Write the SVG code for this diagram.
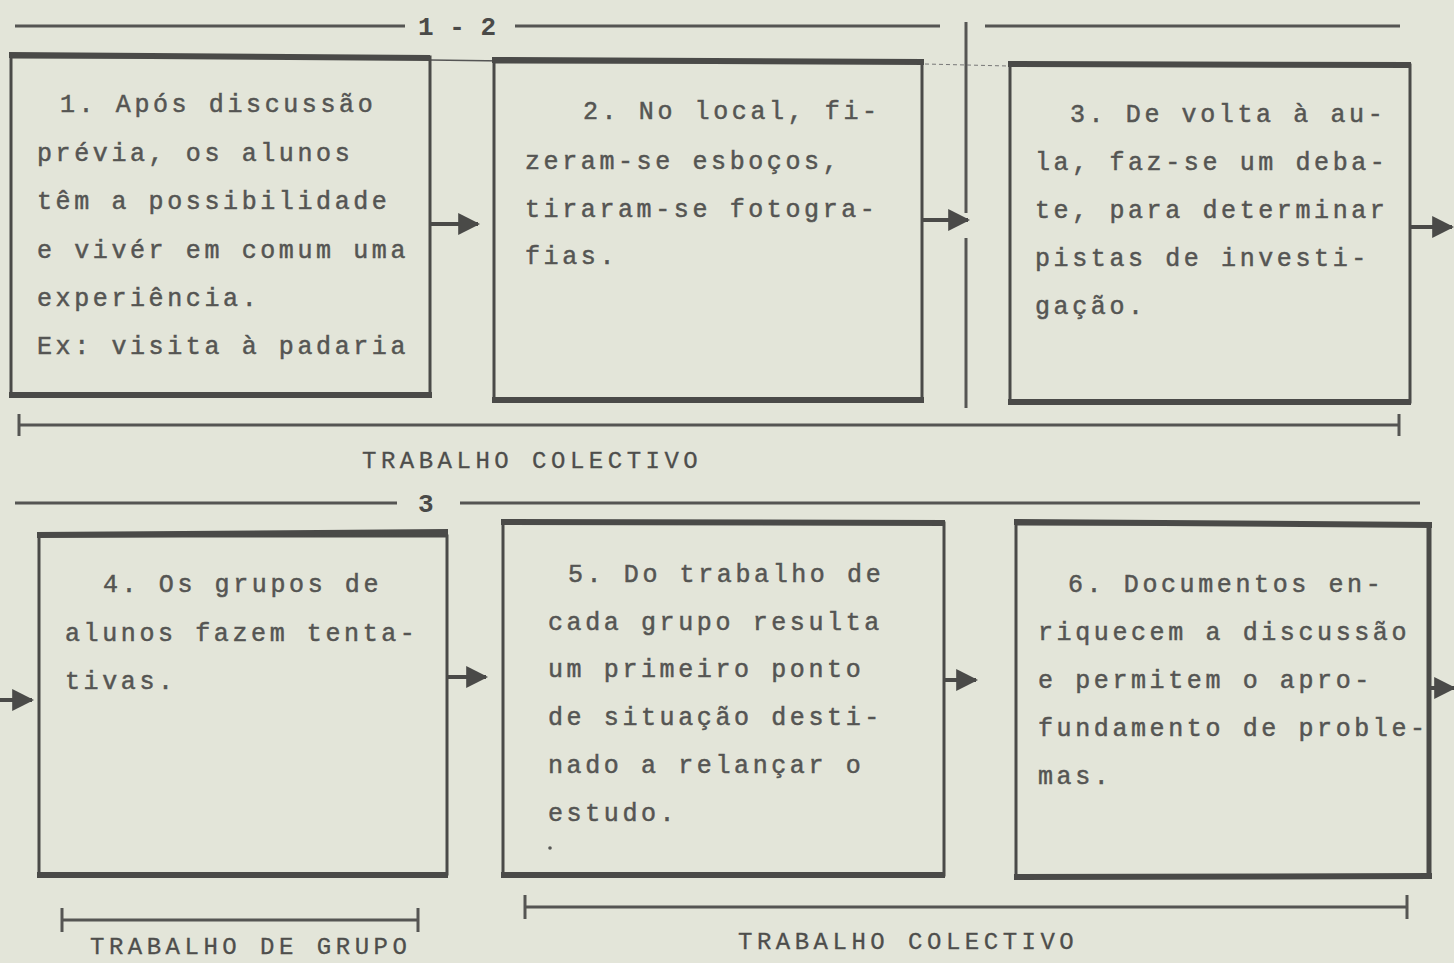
<svg xmlns="http://www.w3.org/2000/svg" width="1454" height="963" viewBox="0 0 1454 963">
<defs>
<style>
.bg{fill:#e3e5d9}
.box{fill:none;stroke:#4a4a48;stroke-width:3}
.edge{stroke:#4a4a48;stroke-width:6;stroke-linecap:butt}
.rule{stroke:#555553;stroke-width:3;fill:none}
.t{font-family:"Liberation Mono",monospace;font-size:25px;letter-spacing:3.6px;fill:#555553;stroke:#555553;stroke-width:0.5}
.lbl{font-family:"Liberation Mono",monospace;font-size:24px;letter-spacing:4.5px;fill:#4e4e4c;stroke:#4e4e4c;stroke-width:0.3}
.hd{font-family:"Liberation Mono",monospace;font-size:26px;font-weight:bold;fill:#4a4a48}
.arr{stroke:#4a4a48;stroke-width:4;fill:none}
</style>
<marker id="ah" viewBox="0 0 10 10" refX="9" refY="5" markerWidth="5.5" markerHeight="5.5" orient="auto" markerUnits="strokeWidth">
<path d="M0,0 L10,5 L0,10 z" fill="#4a4a48"/>
</marker>
</defs>
<rect class="bg" x="0" y="0" width="1454" height="963"/>

<g id="headers">
<line class="rule" x1="15" y1="26" x2="405" y2="26"/>
<text class="hd" x="418" y="35">1 - 2</text>
<line class="rule" x1="515" y1="26" x2="940" y2="26"/>
<line class="rule" x1="985" y1="26" x2="1400" y2="26"/>
<line class="rule" x1="966" y1="22" x2="966" y2="213"/>
<line class="rule" x1="966" y1="238" x2="966" y2="408"/>
<line class="rule" x1="15" y1="503" x2="397" y2="503"/>
<text class="hd" x="418" y="512" font-weight="normal">3</text>
<line class="rule" x1="460" y1="503" x2="1420" y2="503"/>
<line x1="430" y1="60" x2="505" y2="61" stroke="#555" stroke-width="1.5"/>
<line x1="925" y1="64" x2="1008" y2="66" stroke="#777" stroke-width="1" stroke-dasharray="4 3"/>
</g>

<g id="node1">
<rect class="box" x="11" y="57" width="419" height="338"/>
<line class="edge" x1="9" y1="55" x2="430" y2="58"/>
<line class="edge" x1="9" y1="395" x2="432" y2="395"/>
<text class="t" x="60" y="112">1. Após discussão</text>
<text class="t" x="37" y="161">prévia, os alunos</text>
<text class="t" x="37" y="209">têm a possibilidade</text>
<text class="t" x="37" y="258">e vivér em comum uma</text>
<text class="t" x="37" y="306">experiência.</text>
<text class="t" x="37" y="354">Ex: visita à padaria</text>
</g>

<g id="node2">
<rect class="box" x="494" y="62" width="428" height="338"/>
<line class="edge" x1="492" y1="60" x2="924" y2="62"/>
<line class="edge" x1="492" y1="400" x2="924" y2="400"/>
<text class="t" x="583" y="119">2. No local, fi-</text>
<text class="t" x="525" y="169">zeram-se esboços,</text>
<text class="t" x="525" y="217">tiraram-se fotogra-</text>
<text class="t" x="525" y="264">fias.</text>
</g>

<g id="node3">
<rect class="box" x="1010" y="65" width="400" height="337"/>
<line class="edge" x1="1008" y1="64" x2="1411" y2="65"/>
<line class="edge" x1="1008" y1="402" x2="1411" y2="402"/>
<text class="t" x="1070" y="122">3. De volta à au-</text>
<text class="t" x="1035" y="170">la, faz-se um deba-</text>
<text class="t" x="1035" y="218">te, para determinar</text>
<text class="t" x="1035" y="266">pistas de investi-</text>
<text class="t" x="1035" y="314">gação.</text>
</g>

<g id="node4">
<rect class="box" x="39" y="536" width="408" height="338"/>
<line class="edge" x1="37" y1="535" x2="448" y2="532"/>
<line class="edge" x1="37" y1="875" x2="448" y2="875"/>
<text class="t" x="103" y="592">4. Os grupos de</text>
<text class="t" x="65" y="641">alunos fazem tenta-</text>
<text class="t" x="65" y="689">tivas.</text>
</g>

<g id="node5">
<rect class="box" x="503" y="523" width="441" height="352"/>
<line class="edge" x1="501" y1="522" x2="945" y2="523"/>
<line class="edge" x1="501" y1="875" x2="945" y2="875"/>
<text class="t" x="568" y="582">5. Do trabalho de</text>
<text class="t" x="548" y="630">cada grupo resulta</text>
<text class="t" x="548" y="677">um primeiro ponto</text>
<text class="t" x="548" y="725">de situação desti-</text>
<text class="t" x="548" y="773">nado a relançar o</text>
<text class="t" x="548" y="821">estudo.</text>
<circle cx="550" cy="848" r="1.8" fill="#575755"/>
</g>

<g id="node6">
<rect class="box" x="1016" y="524" width="413" height="353"/>
<line class="edge" x1="1014" y1="522" x2="1432" y2="525"/>
<line class="edge" x1="1014" y1="877" x2="1432" y2="876"/>
<line x1="1429" y1="525" x2="1429" y2="877" stroke="#4a4a48" stroke-width="5"/>
<text class="t" x="1068" y="592">6. Documentos en-</text>
<text class="t" x="1038" y="640">riquecem a discussão</text>
<text class="t" x="1038" y="688">e permitem o apro-</text>
<text class="t" x="1038" y="736">fundamento de proble-</text>
<text class="t" x="1038" y="784">mas.</text>
</g>

<g id="connectors">
<line class="arr" x1="431" y1="224" x2="478" y2="224" marker-end="url(#ah)"/>
<line class="arr" x1="923" y1="220" x2="968" y2="220" marker-end="url(#ah)"/>
<line class="arr" x1="1411" y1="227" x2="1452" y2="227" marker-end="url(#ah)"/>
<line class="arr" x1="0" y1="700" x2="32" y2="700" marker-end="url(#ah)"/>
<line class="arr" x1="448" y1="677" x2="486" y2="677" marker-end="url(#ah)"/>
<line class="arr" x1="945" y1="680" x2="976" y2="680" marker-end="url(#ah)"/>
<line class="arr" x1="1431" y1="688" x2="1454" y2="688" marker-end="url(#ah)"/>
</g>

<g id="brackets">
<line class="rule" x1="19" y1="425" x2="1399" y2="425" stroke-width="4"/>
<line class="rule" x1="19" y1="414" x2="19" y2="436"/>
<line class="rule" x1="1399" y1="414" x2="1399" y2="436"/>
<text class="lbl" x="362" y="468">TRABALHO COLECTIVO</text>
<line class="rule" x1="62" y1="920" x2="418" y2="920"/>
<line class="rule" x1="62" y1="908" x2="62" y2="932"/>
<line class="rule" x1="418" y1="908" x2="418" y2="932"/>
<text class="lbl" x="90" y="954">TRABALHO DE GRUPO</text>
<line class="rule" x1="525" y1="907" x2="1407" y2="907"/>
<line class="rule" x1="525" y1="895" x2="525" y2="919"/>
<line class="rule" x1="1407" y1="895" x2="1407" y2="919"/>
<text class="lbl" x="738" y="949">TRABALHO COLECTIVO</text>
</g>
</svg>
